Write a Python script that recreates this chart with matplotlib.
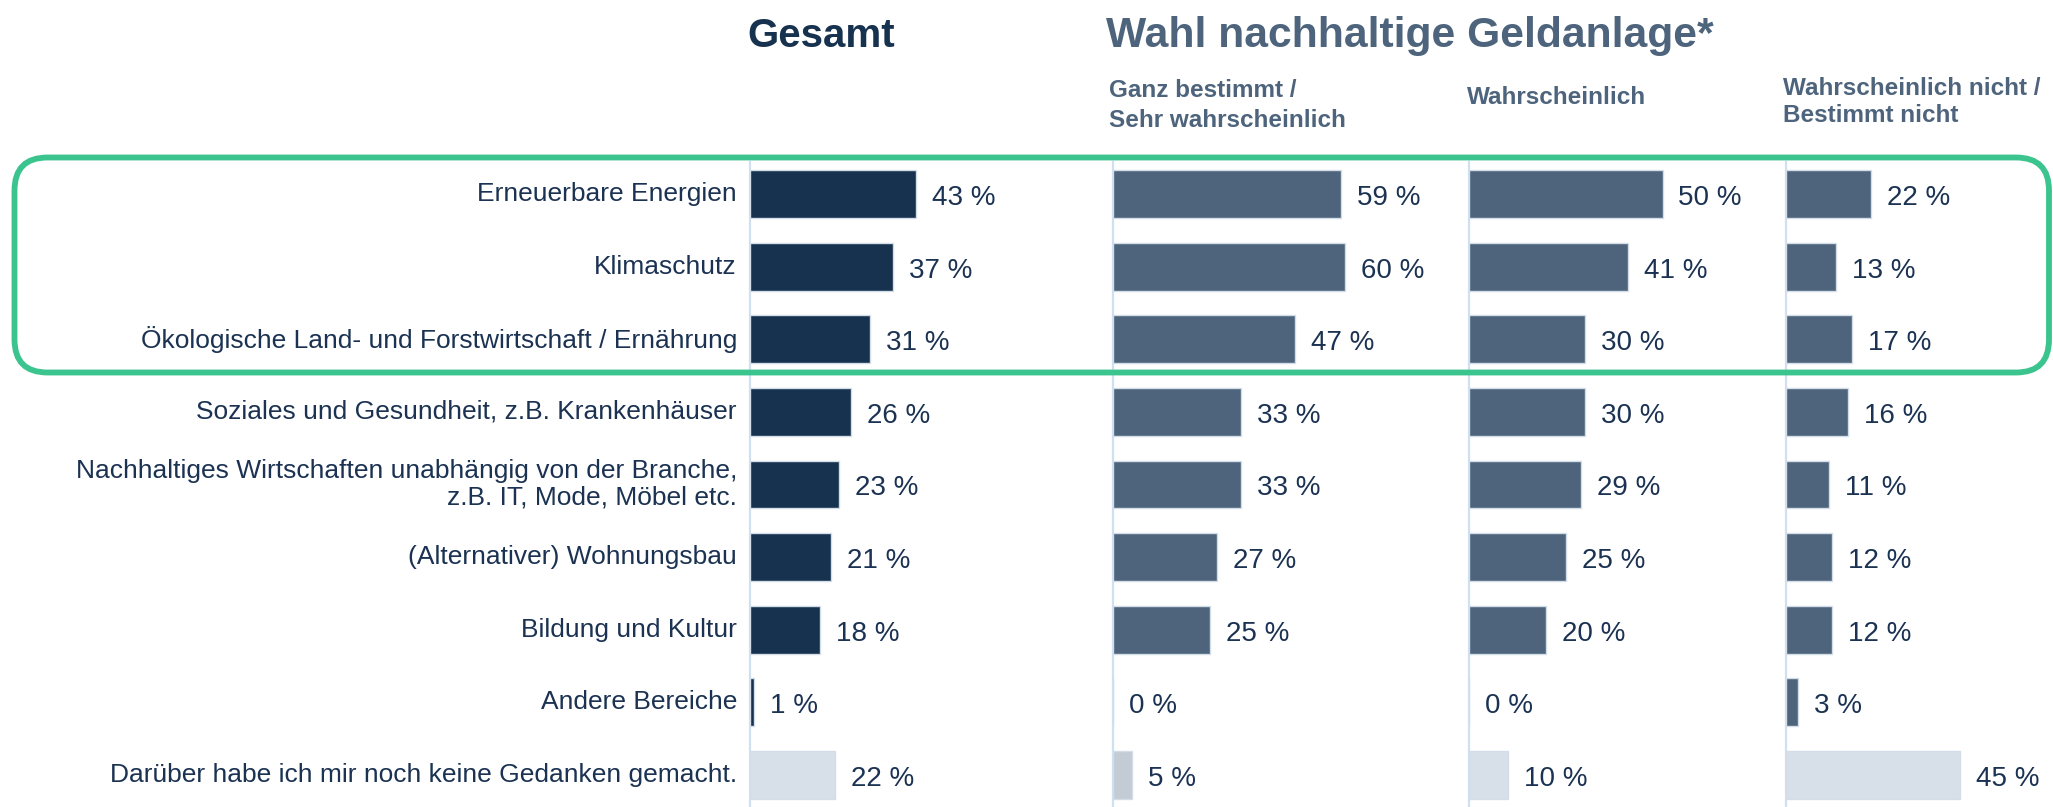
import matplotlib
matplotlib.use("Agg")
import matplotlib.pyplot as plt
from matplotlib.patches import FancyBboxPatch
from matplotlib.transforms import Affine2D

plt.rcParams['font.family'] = ['Liberation Sans', 'DejaVu Sans']

# ---------------- data ----------------
categories = [
    "Erneuerbare Energien",
    "Klimaschutz",
    "Ökologische Land- und Forstwirtschaft / Ernährung",
    "Soziales und Gesundheit, z.B. Krankenhäuser",
    "Nachhaltiges Wirtschaften unabhängig von der Branche,\nz.B. IT, Mode, Möbel etc.",
    "(Alternativer) Wohnungsbau",
    "Bildung und Kultur",
    "Andere Bereiche",
    "Darüber habe ich mir noch keine Gedanken gemacht.",
]
gesamt = [43, 37, 31, 26, 23, 21, 18, 1, 22]
ganz_bestimmt = [59, 60, 47, 33, 33, 27, 25, 0, 5]
wahrscheinlich = [50, 41, 30, 30, 29, 25, 20, 0, 10]
wahrscheinlich_nicht = [22, 13, 17, 16, 11, 12, 12, 3, 45]

title_left = "Gesamt"
title_right = "Wahl nachhaltige Geldanlage*"
sub_headers = [["Ganz bestimmt /", "Sehr wahrscheinlich"],
               ["Wahrscheinlich"],
               ["Wahrscheinlich nicht /", "Bestimmt nicht"]]

# ---------------- style ----------------
W, H = 2053, 807
NAVY = "#17324F"
SLATE = "#4D647C"
LIGHT = "#D7DFE8"
LIGHT2 = "#C3CBD4"
AXLINE = "#CFE0F2"
GREEN = "#3CC48F"
TXT = "#1B3252"

fig = plt.figure(figsize=(W / 100, H / 100), dpi=100)

PPU = 3.87            # pixels per percent
ax_top, ax_bot = 162, 807
ylims = (8.44, -0.44)
UPP = (ylims[0] - ylims[1]) / (ax_bot - ax_top)   # data units per pixel (vertical)

series = [gesamt, ganz_bestimmt, wahrscheinlich, wahrscheinlich_nicht]
lefts = [750, 1113, 1469, 1786]
xmax = [90, 90, 80, 69]

for k, (vals, left, xm) in enumerate(zip(series, lefts, xmax)):
    ax = fig.add_axes([left / W, (H - ax_bot) / H, xm * PPU / W, (ax_bot - ax_top) / H])
    ax.set_xlim(0, xm)
    ax.set_ylim(*ylims)
    ax.set_facecolor("none")
    for s in ["top", "right", "bottom"]:
        ax.spines[s].set_visible(False)
    ax.spines["left"].set_color(AXLINE)
    ax.spines["left"].set_linewidth(1.6)
    ax.set_xticks([])
    ax.set_yticks([])
    base = NAVY if k == 0 else SLATE
    colors = [base] * (len(vals) - 1) + [LIGHT2 if k == 1 else LIGHT]
    ypos = list(range(len(vals)))
    ax.barh(ypos, vals, height=0.66, color=colors, edgecolor="#D3DDE8",
            linewidth=1.0, zorder=3)
    off = 16 / PPU
    for y, v in zip(ypos, vals):
        ax.text(v + off, y + 4 * UPP, f"{v} %", ha="left", va="center", fontsize=20,
                color=TXT, zorder=4)
    if k == 0:
        for y, lab in zip(ypos, categories):
            ax.text(-13 / PPU, y, lab, ha="right", va="center", fontsize=19,
                    color=TXT, linespacing=1.12)

# titles
fig.text(747 / W, 1 - 47 / H, title_left, fontsize=29, fontweight="bold",
         color=NAVY, ha="left", va="baseline")
fig.text(1106 / W, 1 - 47 / H, title_right, fontsize=30.7, fontweight="bold",
         color=SLATE, ha="left", va="baseline")

# sub headers
sub_x = [1109, 1467, 1783]
sub_y = [[97, 127], [104], [95, 122]]
for lines, x, ys in zip(sub_headers, sub_x, sub_y):
    for line, y in zip(lines, ys):
        fig.text(x / W, 1 - y / H, line, fontsize=17.5, fontweight="bold",
                 color=SLATE, ha="left", va="baseline")

# green highlight box (pixel coordinates, origin bottom-left)
box = FancyBboxPatch((14.5, H - 372.5), 2049 - 14.5, 372.5 - 157.5,
                     boxstyle="round,pad=0,rounding_size=33",
                     transform=Affine2D().scale(1 / W, 1 / H) + fig.transFigure,
                     fill=False, edgecolor=GREEN, linewidth=4.2, zorder=10)
fig.add_artist(box)

fig.savefig("out.png", dpi=100)
